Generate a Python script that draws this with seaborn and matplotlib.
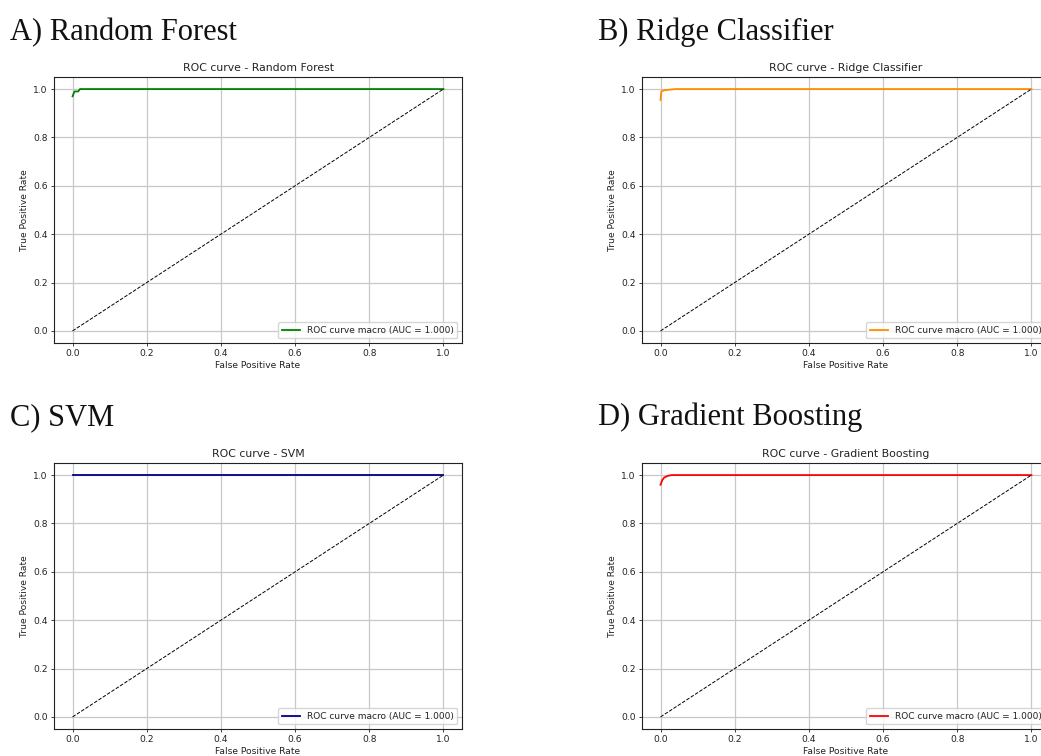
import numpy as np
import pandas as pd
import matplotlib
matplotlib.use('Agg')
import matplotlib.pyplot as plt
import seaborn as sns

# ROC points (macro-averaged curves)
models = ['Random Forest', 'Ridge Classifier', 'SVM', 'Gradient Boosting']
panel_tags = ['A)', 'B)', 'C)', 'D)']
colors = ['green', 'darkorange', 'navy', 'red']

rf_fpr = [0.0, 0.0, 0.005, 0.015, 0.02, 0.1, 0.5, 1.0]
rf_tpr = [0.0, 0.97, 0.99, 0.99, 1.0, 1.0, 1.0, 1.0]
ridge_fpr = [0.0, 0.0, 0.002, 0.01, 0.04, 0.1, 0.5, 1.0]
ridge_tpr = [0.0, 0.955, 0.99, 0.995, 1.0, 1.0, 1.0, 1.0]
svm_fpr = [0.0, 0.0, 0.1, 0.5, 1.0]
svm_tpr = [0.0, 1.0, 1.0, 1.0, 1.0]
gb_fpr = [0.0, 0.0, 0.005, 0.01, 0.02, 0.03, 0.1, 0.5, 1.0]
gb_tpr = [0.0, 0.96, 0.98, 0.99, 0.997, 1.0, 1.0, 1.0, 1.0]

fpr_list = [rf_fpr, ridge_fpr, svm_fpr, gb_fpr]
tpr_list = [rf_tpr, ridge_tpr, svm_tpr, gb_tpr]
auc_values = [1.000, 1.000, 1.000, 1.000]
diag = [0.0, 1.0]

fig = plt.figure(figsize=(10.41, 7.56), dpi=100)

# axes boxes in figure fraction [left, bottom, width, height]
boxes = [
    [0.0519, 0.5463, 0.3919, 0.3519],
    [0.6167, 0.5463, 0.3919, 0.3519],
    [0.0519, 0.0357, 0.3919, 0.3519],
    [0.6167, 0.0357, 0.3919, 0.3519],
]
tag_pos = [(0.010, 0.947), (0.574, 0.947), (0.010, 0.438), (0.574, 0.438)]

for i, name in enumerate(models):
    ax = fig.add_axes(boxes[i])
    # skip the (0,0) start so the drawn line begins near tpr ~0.96 like the reference
    df = pd.DataFrame({'fpr': fpr_list[i][1:], 'tpr': tpr_list[i][1:]})
    sns.lineplot(data=df, x='fpr', y='tpr', ax=ax, color=colors[i], linewidth=1.3,
                 estimator=None, sort=False,
                 label=f'ROC curve macro (AUC = {auc_values[i]:.3f})')
    ax.plot(diag, diag, 'k--', linewidth=0.7)
    ax.set_xlim(-0.05, 1.05)
    ax.set_ylim(-0.05, 1.05)
    ax.set_xticks([0.0, 0.2, 0.4, 0.6, 0.8, 1.0])
    ax.set_yticks([0.0, 0.2, 0.4, 0.6, 0.8, 1.0])
    ax.grid(True, color='#c8c8c8', linewidth=0.9)
    ax.tick_params(labelsize=6.6, length=2.5, width=0.6, pad=2, colors='#222222')
    for s in ax.spines.values():
        s.set_linewidth(0.8)
        s.set_color('#222222')
    ax.set_xlabel('False Positive Rate', fontsize=6.6, labelpad=2, color='#222222')
    ax.set_ylabel('True Positive Rate', fontsize=6.6, labelpad=3, color='#222222')
    ax.set_title(f'ROC curve - {name}', fontsize=7.8, pad=4, color='#222222')
    leg = ax.legend(loc='lower right', fontsize=6.5, handlelength=2.0, borderpad=0.4,
                    framealpha=0.8, fancybox=True)
    for t in leg.get_texts():
        t.set_color('#222222')
    fig.text(tag_pos[i][0], tag_pos[i][1], f'{panel_tags[i]} {name}',
             fontsize=22, family='Liberation Serif', ha='left', va='baseline',
             color='#111111')

fig.savefig('out.png', dpi=100)
